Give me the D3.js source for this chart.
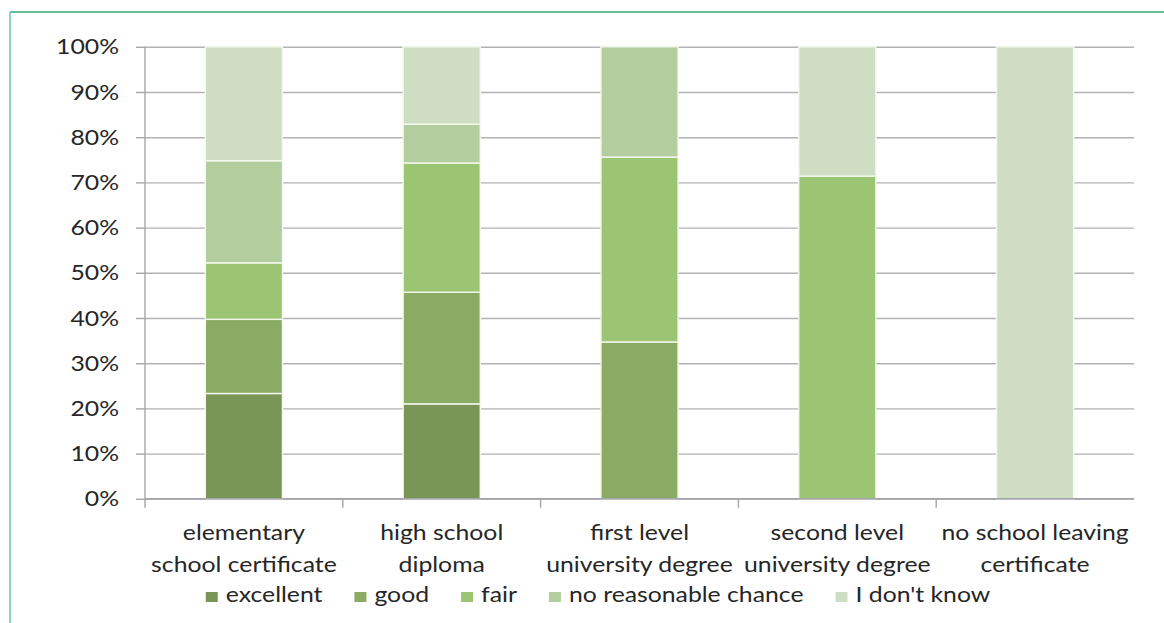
<!DOCTYPE html>
<html>
<head>
<meta charset="utf-8">
<script src="https://cdn.jsdelivr.net/npm/d3@7"></script>
<style>
  body { margin: 0; background: #ffffff; }
  svg { display: block; }
  text { font-family: Lato, "Open Sans", sans-serif; fill: #262626; }
</style>
</head>
<body>
<svg id="chart" width="1164" height="623"></svg>
<script>
// Education level groups (two-line labels)
const categories = [
  ["elementary", "school certificate"],
  ["high school", "diploma"],
  ["first level", "university degree"],
  ["second level", "university degree"],
  ["no school leaving", "certificate"]
];
const seriesNames = ["excellent", "good", "fair", "no reasonable chance", "I don't know"];

// Share of answers per group, in percent
const excellent = [23.3, 21.0, 0, 0, 0];
const good      = [16.4, 24.7, 34.7, 0, 0];
const fair      = [12.5, 28.6, 40.9, 71.4, 0];
const noChance  = [22.6, 8.6, 24.4, 0, 0];
const dontKnow  = [25.2, 17.1, 0, 28.6, 100];

const yTicks = [0, 10, 20, 30, 40, 50, 60, 70, 80, 90, 100];
const seriesColors = ["#7a9656", "#8aab64", "#9bc473", "#b3cd9f", "#cfdec2"];

// Glyph widening applied to every label
const TEXT_STRETCH = 1.18;
const FONT_SIZE = 21;

const svg = d3.select("#chart");

// Frame
svg.append("line").attr("x1", 10).attr("x2", 1164).attr("y1", 12).attr("y2", 12)
  .attr("stroke", "#3aa57a").attr("stroke-width", 1.5);
svg.append("line").attr("x1", 10).attr("x2", 10).attr("y1", 12).attr("y2", 623)
  .attr("stroke", "#6cc5a0").attr("stroke-width", 1.5);

const plot = { left: 145, right: 1134, top: 46.8, bottom: 498.8 };

const x = d3.scaleBand()
  .domain(d3.range(categories.length))
  .range([plot.left, plot.right])
  .paddingInner(0.61)
  .paddingOuter(0.305);

const y = d3.scaleLinear().domain([0, 100]).range([plot.bottom, plot.top]);

// Horizontal gridlines
svg.append("g")
  .attr("transform", `translate(${plot.left},0)`)
  .call(d3.axisLeft(y).tickValues(yTicks).tickSize(-(plot.right - plot.left)).tickFormat(""))
  .call(g => g.select(".domain").remove())
  .call(g => g.selectAll(".tick line").attr("stroke", "#b2b2b6").attr("stroke-width", 1.4));

// Stacked bars
const rows = categories.map((c, i) => ({
  i,
  excellent: excellent[i], good: good[i], fair: fair[i],
  noChance: noChance[i], dontKnow: dontKnow[i]
}));
const keys = ["excellent", "good", "fair", "noChance", "dontKnow"];
const stacked = d3.stack().keys(keys)(rows);

svg.append("g").selectAll("g")
  .data(stacked)
  .join("g")
  .attr("fill", (d, k) => seriesColors[k])
  .selectAll("rect")
  .data(d => d.filter(p => p[1] - p[0] > 0))
  .join("rect")
  .attr("x", p => x(p.data.i))
  .attr("width", x.bandwidth())
  .attr("y", p => y(p[1]))
  .attr("height", p => y(p[0]) - y(p[1]))
  .attr("stroke", "#f4f8f0")
  .attr("stroke-width", 1.4);

// Y axis with outer ticks and percent labels
const yAxis = svg.append("g")
  .attr("transform", `translate(${plot.left},0)`)
  .call(d3.axisLeft(y).tickValues(yTicks).tickSize(9).tickPadding(0).tickFormat(d => d + "%"));
yAxis.select(".domain").attr("stroke", "#a6a6aa").attr("stroke-width", 1.4)
  .attr("d", `M0,${plot.top}V${plot.bottom + 9}`);
yAxis.selectAll(".tick line").attr("stroke", "#a6a6aa").attr("stroke-width", 1.4);
yAxis.selectAll(".tick text")
  .attr("x", -26 / TEXT_STRETCH)
  .attr("dy", "0.34em")
  .attr("transform", `scale(${TEXT_STRETCH},1)`)
  .style("font-size", FONT_SIZE + "px")
  .style("font-family", "Lato, 'Open Sans', sans-serif")
  .attr("fill", "#262626");

// X axis line with separators between groups
const xAxis = svg.append("g");
xAxis.append("line")
  .attr("x1", plot.left).attr("x2", plot.right)
  .attr("y1", y(0)).attr("y2", y(0))
  .attr("stroke", "#a6a6aa").attr("stroke-width", 1.4);
const boundaries = d3.range(1, categories.length).map(k => plot.left + k * x.step());
xAxis.selectAll(".sep").data(boundaries).join("line")
  .attr("class", "sep")
  .attr("x1", d => d).attr("x2", d => d)
  .attr("y1", y(0)).attr("y2", y(0) + 9)
  .attr("stroke", "#a6a6aa").attr("stroke-width", 1.4);

// Category labels
const labelBaselines = [540, 572];
const catG = svg.append("g").selectAll("g")
  .data(categories)
  .join("g")
  .attr("transform", (d, i) => `translate(${x(i) + x.bandwidth() / 2},0)`);
catG.each(function(lines) {
  const g = d3.select(this);
  lines.forEach((t, j) => {
    g.append("text")
      .attr("transform", `translate(0,${labelBaselines[j]}) scale(${TEXT_STRETCH},1)`)
      .attr("text-anchor", "middle")
      .style("font-size", FONT_SIZE + "px")
      .text(t);
  });
});

// Legend, laid out left to right then centred
const legend = svg.append("g");
let lx = 0;
const legendBaseline = 602;
seriesNames.forEach((name, k) => {
  legend.append("rect")
    .attr("x", lx).attr("y", 592)
    .attr("width", 12).attr("height", 10)
    .attr("fill", seriesColors[k]);
  const t = legend.append("text")
    .attr("transform", `translate(${lx + 20},${legendBaseline}) scale(${TEXT_STRETCH},1)`)
    .style("font-size", FONT_SIZE + "px")
    .text(name);
  const w = t.node().getComputedTextLength() * TEXT_STRETCH;
  lx += 20 + w + (k < seriesNames.length - 1 ? 32 : 0);
});
legend.attr("transform", `translate(${598 - lx / 2},0)`);
</script>
</body>
</html>
